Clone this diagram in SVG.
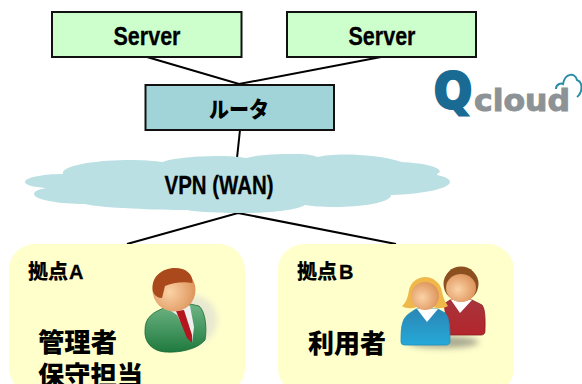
<svg xmlns="http://www.w3.org/2000/svg" width="582" height="384" viewBox="0 0 582 384">
<defs>
<style>
.lat{font-family:"Liberation Sans Narrow","Liberation Sans",sans-serif;font-weight:700;fill:#000;stroke:#000;stroke-width:.3}
.cjk{font-family:"Noto Sans CJK JP",sans-serif;font-weight:900;fill:#000}
.conn{stroke:#000;stroke-width:2;fill:none}
.srv{fill:#ccffcc;stroke:#111;stroke-width:2}
.card{fill:#ffffcc}
.logo{font-family:"DejaVu Sans",sans-serif;font-weight:700}
</style>
<radialGradient id="skin" cx=".4" cy=".55" r=".7"><stop offset="0" stop-color="#fbd3a6"/><stop offset="1" stop-color="#d98a50"/></radialGradient>
<linearGradient id="green" x1="0" y1="0" x2="0" y2="1"><stop offset="0" stop-color="#6fb585"/><stop offset="1" stop-color="#1f7a3e"/></linearGradient>
<linearGradient id="blue" x1="0" y1="0" x2="0" y2="1"><stop offset="0" stop-color="#2b86b5"/><stop offset="1" stop-color="#25a9d8"/></linearGradient>
<linearGradient id="red" x1="0" y1="0" x2="0" y2="1"><stop offset="0" stop-color="#a8343c"/><stop offset="1" stop-color="#b3262c"/></linearGradient>
<filter id="soft" x="-30%" y="-60%" width="160%" height="220%"><feGaussianBlur stdDeviation="3"/></filter>
</defs>
<g id="connectors">
<path class="conn" d="M147 57L239 84L381 57"/>
<path class="conn" d="M240 130L237 158"/>
<path class="conn" d="M127 244L238 213L396 244"/>
</g>
<g id="server-1"><rect class="srv" x="52" y="12" width="189.500" height="45"/><text class="lat" x="147" y="45" font-size="25" text-anchor="middle" textLength="67" lengthAdjust="spacingAndGlyphs">Server</text></g>
<g id="server-2"><rect class="srv" x="287" y="12" width="189" height="45"/><text class="lat" x="382" y="45" font-size="25" text-anchor="middle" textLength="67" lengthAdjust="spacingAndGlyphs">Server</text></g>
<g id="router"><rect x="145.500" y="85" width="188.500" height="45" fill="#a0d4d8" stroke="#111" stroke-width="2"/><text class="cjk" x="239" y="117" font-size="22" text-anchor="middle" textLength="60" lengthAdjust="spacingAndGlyphs">ルータ</text></g>
<g id="cloud">
<path fill="#bbe0e3" d="M25 182C25 177 45 174 63 174C60 165 100 160 130 160C145 160 155 161 163 162C175 157 205 156 220 156C232 156 240 157 246 158C260 154 285 154 300 154C306 154 312 155 318 157C330 153 375 153 402 162C420 163 440 166 440 172C438 173 437 174 437 175C446 177 450 179 450 182C450 188 425 194 391 195C391 203 360 207 335 207C320 207 310 206 305 205C295 211 265 213 240 213C220 213 195 212 187 210C160 210 100 208 85 204C60 204 34 200 34 194C34 191 40 189 46 188C33 187 25 185 25 182Z"/>
<text class="lat" x="219" y="194" font-size="25" text-anchor="middle" textLength="109" lengthAdjust="spacingAndGlyphs">VPN (WAN)</text>
</g>
<g id="site-a">
<rect class="card" x="9" y="244" width="236" height="150" rx="26"/>
<text x="28" y="279" font-size="20"><tspan class="cjk">拠点</tspan><tspan class="lat" font-size="20" dx="1">A</tspan></text>
<text class="cjk" x="38" y="352" font-size="26" textLength="79" lengthAdjust="spacingAndGlyphs">管理者</text>
<text class="cjk" x="38" y="385" font-size="26" textLength="105" lengthAdjust="spacingAndGlyphs">保守担当</text>
<g id="admin-icon">
<ellipse cx="192" cy="320" rx="25" ry="25" fill="#e8e8d0" filter="url(#soft)"/>
<path d="M145 330C145 318 152 312 167 307L190 304L199 306C206 312 207 330 205 340C198 349 180 353 165 352C152 351 144 342 145 330Z" fill="url(#green)" stroke="#196b36" stroke-width=".8"/>
<path d="M168 309L184 304L190 306L194 327L192 343L177 315Z" fill="#eef0f0"/>
<path d="M176 311L184 310L192 335L192 343L187 338Z" fill="#b3161e"/>
<circle cx="174" cy="290" r="21.500" fill="url(#skin)"/>
<path d="M153 292C150 277 162 268 175 268C186 268 193 274 192.500 283C183 281 172 283 165 286L162 298C158 298 155 296 153 292Z" fill="#a9491c"/>
</g>
</g>
<g id="site-b">
<rect class="card" x="278" y="244" width="236" height="150" rx="26"/>
<text x="297" y="279" font-size="20"><tspan class="cjk">拠点</tspan><tspan class="lat" font-size="20" dx="2">B</tspan></text>
<text class="cjk" x="308" y="353" font-size="26" textLength="78" lengthAdjust="spacingAndGlyphs">利用者</text>
<g id="users-icon">
<ellipse cx="443" cy="342" rx="36" ry="6" fill="#a8a890" filter="url(#soft)"/>
<path d="M444 304L450 300H472L482 305C486 310 485 325 485 331C485 334 483 335 481 335H449Z" fill="url(#red)" stroke="#8a1c22" stroke-width=".8"/>
<path d="M451 300L460 313L472 300Z" fill="#fff"/>
<circle cx="461" cy="284" r="17.500" fill="#8c4f1f"/>
<ellipse cx="461" cy="288" rx="15" ry="14" fill="url(#skin)"/>
<path d="M410 313L416 309H438L445 313C449 317 450 325 450 341C450 344 448 345 446 345H405C402 345 401 344 401 341C401 326 402 318 410 313Z" fill="url(#blue)" stroke="#1d8fbd" stroke-width=".8"/>
<path d="M417 309L427 322L438 309Z" fill="#fff"/>
<path d="M409 290C411 282 418 277 425 277C433 277 441 283 442 292C443 298 446 303 448 306C443 309 436 309 432 306H418C414 309 406 309 402 306C406 303 408 297 409 290Z" fill="#f0b84a"/>
<ellipse cx="425" cy="296" rx="14" ry="14" fill="url(#skin)"/>
</g>
</g>
<g id="logo">
<text class="logo" x="434" y="108" font-size="50" fill="#1a6b93" stroke="#1a6b93" stroke-width="3" textLength="38" lengthAdjust="spacingAndGlyphs">Q</text>
<text class="logo" x="474" y="111" font-size="31" fill="#8c9296" stroke="#8c9296" stroke-width="1" textLength="96" lengthAdjust="spacingAndGlyphs">cloud</text>
<path d="M556 89C556 84 561 83 563 84C565 73 575 72 577 80C583 82 583 92 577 97" fill="none" stroke="#2b8ca8" stroke-width="2"/>
</g>
</svg>
